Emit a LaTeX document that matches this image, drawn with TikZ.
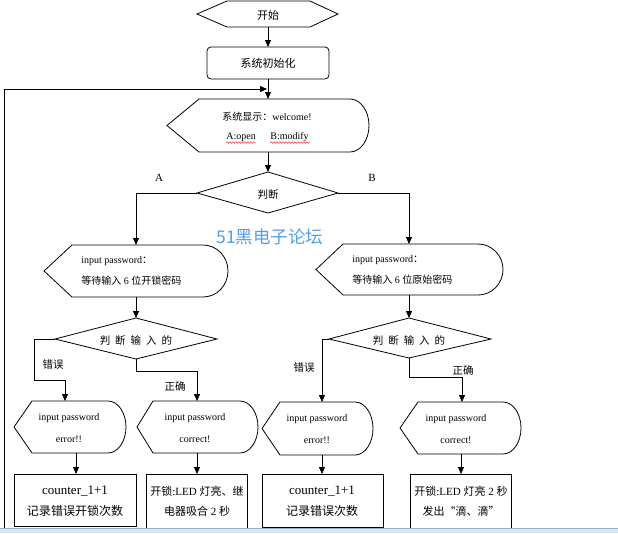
\documentclass[tikz,border=0pt]{standalone}
\usepackage{fontspec}
\setmainfont{Liberation Serif}
\newfontfamily\cjk{Noto Sans CJK SC}
\newfontfamily\wmfont{Noto Sans CJK SC}
\usetikzlibrary{arrows.meta,decorations.pathmorphing}
\newcommand\zh[1]{{\cjk #1}}
\newcommand\dispshape[6]{%
  \pgfmathsetmacro\dM{(#5+#6)/2}%
  \pgfmathsetmacro\dRy{(#6-#5)/2*0.5523}%
  \pgfmathsetmacro\dRx{#3+(#4-#3)*0.5523}%
  \draw (#1,\dM) -- (#2,#5) -- (#3,#5) .. controls (\dRx,#5) and (#4,\dM-\dRy) .. (#4,\dM)
        .. controls (#4,\dM+\dRy) and (\dRx,#6) .. (#3,#6) -- (#2,#6) -- cycle;}
\definecolor{wmblue}{RGB}{80,160,230}
\definecolor{tbfill}{RGB}{221,231,243}
\definecolor{tbline}{RGB}{150,172,200}
\begin{document}
\begin{tikzpicture}[x=1pt,y=-1pt,line width=0.8pt,
  arr/.style={-{Triangle[length=7pt,width=6pt]}},
  txt/.style={inner sep=0pt,font=\fontsize{10}{12}\selectfont},
  ztxt/.style={inner sep=0pt,font=\cjk\fontsize{10.5}{12}\selectfont},
  bigtxt/.style={inner sep=0pt,font=\fontsize{11}{13}\selectfont}]
\useasboundingbox (0,0) rectangle (618,533);
\begin{scope}
\clip (0,0) rectangle (618,527);
% start
\draw (197,14) -- (227,1) -- (310,1) -- (338,14) -- (310,27) -- (227,27) -- cycle;
\node[ztxt,font=\cjk\fontsize{11}{13}\selectfont] (start) at (268,15) {开始};
% init
\draw[rounded corners=4pt] (207,47) rectangle (329,79);
\node[ztxt,font=\cjk\fontsize{11}{13}\selectfont] (init) at (268,63) {系统初始化};
% display
\dispshape{167}{199}{350}{369}{99}{152}
\node[txt] (disp1) at (267,117) {\zh{系统显示：}welcome!};
\node[txt,anchor=west] (optA) at (226,137) {A:open};
\node[txt,anchor=west] (optB) at (270,137) {B:modify};
\draw[red,line width=0.4pt,decorate,decoration={snake,amplitude=0.8pt,segment length=3pt}] (226,142.5) -- (256,142.5);
\draw[red,line width=0.4pt,decorate,decoration={snake,amplitude=0.8pt,segment length=3pt}] (270,142.5) -- (310,142.5);
% judge
\draw (197,193) -- (268,172) -- (338,193) -- (268,213) -- cycle;
\node[ztxt] (judge) at (268,195) {判断};
\node[bigtxt] (lA) at (159,178) {A};
\node[bigtxt] (lB) at (372,178) {B};
% watermark
\node[inner sep=0pt,text=wmblue,font=\wmfont\fontsize{17.5}{21}\selectfont] (wm) at (270,237) {51黑电子论坛};
% A display
\dispshape{44}{72}{203}{228}{245}{297}
\node[txt,anchor=west] (pa1) at (81,261) {input password\zh{：}};
\node[txt,anchor=west] (pa2) at (81,281) {\zh{等待输入} 6 \zh{位开锁密码}};
% B display
\dispshape{316}{343}{478}{503}{244}{295}
\node[txt,anchor=west] (pb1) at (352,260) {input password\zh{：}};
\node[txt,anchor=west] (pb2) at (352,280) {\zh{等待输入} 6 \zh{位原始密码}};
% diamonds
\draw (55,339) -- (136,318) -- (217,339) -- (136,359) -- cycle;
\node[ztxt] (ja) at (136,341) {判\hspace{5pt}断\hspace{5pt}输\hspace{5pt}入\hspace{5pt}的};
\draw (329,339) -- (409,318) -- (491,339) -- (409,358) -- cycle;
\node[ztxt] (jb) at (409,341) {判\hspace{5pt}断\hspace{5pt}输\hspace{5pt}入\hspace{5pt}的};
\node[ztxt] (e1) at (53,365) {错误};
\node[ztxt] (c1) at (175,386) {正确};
\node[ztxt] (e2) at (304,368) {错误};
\node[ztxt] (c2) at (463,370) {正确};
% bottom displays
\dispshape{14}{32}{108}{126}{401}{453}
\node[txt] (d1a) at (69,418) {input password};
\node[txt] (d1b) at (69,439) {error!!};
\dispshape{137}{153}{240}{258}{401}{453}
\node[txt] (d2a) at (195,418) {input password};
\node[txt] (d2b) at (195,439) {correct!};
\dispshape{262}{280}{355}{373}{402}{455}
\node[txt] (d3a) at (317,419) {input password};
\node[txt] (d3b) at (317,440) {error!!};
\dispshape{400}{418}{503}{521}{402}{454}
\node[txt] (d4a) at (456,419) {input password};
\node[txt] (d4b) at (456,440) {correct!};
% boxes
\draw (14,474) rectangle (136,526);
\node[inner sep=0pt,font=\fontsize{13}{15}\selectfont] (b1a) at (75,491) {counter\_1+1};
\node[inner sep=0pt,font=\cjk\fontsize{12}{14}\selectfont] (b1b) at (75,511) {记录错误开锁次数};
\draw (146,474) rectangle (247,545);
\node[bigtxt] (b2a) at (197,491) {\zh{开锁}:LED \zh{灯亮、继}};
\node[bigtxt] (b2b) at (197,511) {\zh{电器吸合} 2 \zh{秒}};
\draw (262,474) rectangle (383,527);
\node[inner sep=0pt,font=\fontsize{13}{15}\selectfont] (b3a) at (322,491) {counter\_1+1};
\node[inner sep=0pt,font=\cjk\fontsize{12}{14}\selectfont] (b3b) at (322,511) {记录错误次数};
\draw (410,474) rectangle (511,545);
\node[bigtxt] (b4a) at (461,491) {\zh{开锁}:LED \zh{灯亮} 2 \zh{秒}};
\node[bigtxt] (b4b) at (461,511) {\zh{发出“滴、滴”}};
% connector coordinates
\coordinate (sB) at (268,27);
\coordinate (iT) at (268,47);
\coordinate (iB) at (268,79);
\coordinate (dT) at (268,99);
\coordinate (dB) at (268,152);
\coordinate (jT) at (268,172);
\coordinate (jL) at (197,193);
\coordinate (jR) at (338,193);
\coordinate (aT) at (136,245);
\coordinate (bT) at (409,244);
\coordinate (aB) at (136,297);
\coordinate (bB) at (409,295);
\coordinate (jaT) at (136,318);
\coordinate (jbT) at (409,318);
\coordinate (jaL) at (55,339);
\coordinate (jaB) at (136,359);
\coordinate (jbL) at (329,339);
\coordinate (jbB) at (409,358);
\coordinate (loopS) at (4,560);
\coordinate (loopE) at (267,89);
% connectors
\draw[arr] (sB) -- (iT);
\draw[arr] (iB) -- (dT);
\draw[arr] (loopS) |- (loopE);
\draw[arr] (dB) -- (jT);
\draw[arr] (jL) -| (aT);
\draw[arr] (jR) -| (bT);
\draw[arr] (aB) -- (jaT);
\draw[arr] (bB) -- (jbT);
\draw[arr] (jaL) -- (34,339) -- (34,380) -| (65,401);
\draw[arr] (jaB) -- (136,371) -| (197,401);
\draw[arr] (jbL) -| (322,402);
\draw[arr] (jbB) -- (409,377) -| (462,402);
\draw[arr] (76,453) -- (76,474);
\draw[arr] (197,453) -- (197,474);
\draw[arr] (322,455) -- (322,474);
\draw[arr] (461,454) -- (461,474);
\end{scope}
% taskbar strip
\fill[tbfill] (0,527.5) rectangle (618,533);
\draw[tbline,line width=0.6pt] (0,527.8) -- (618,527.8);
\end{tikzpicture}
\end{document}
